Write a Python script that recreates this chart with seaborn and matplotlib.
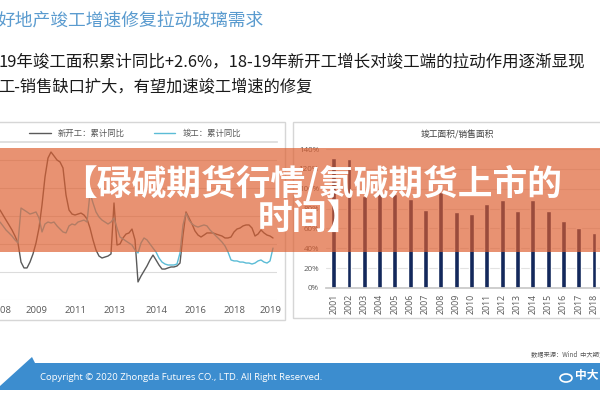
import matplotlib
matplotlib.use("Agg")
import matplotlib.pyplot as plt
import seaborn as sns
import pandas as pd
from matplotlib.patches import Rectangle, Polygon, Circle
from matplotlib.lines import Line2D

sns.set_theme(style="white")
plt.rcParams["font.family"] = ["Noto Sans CJK SC", "DejaVu Sans"]

# ---------------- data ----------------
header_title = "好地产竣工增速修复拉动玻璃需求"
header_line2 = "19年竣工面积累计同比+2.6%，18-19年新开工增长对竣工端的拉动作用逐渐显现"
header_line3 = "工-销售缺口扩大，有望加速竣工增速的修复"
banner_line1 = "【碌碱期货行情/氯碱期货上市的"
banner_line2 = "时间】"

series_names = ["新开工：累计同比", "竣工：累计同比"]
line_tick_labels = ["2008", "2009", "2011", "2013", "2014", "2016", "2018", "2019"]
line_tick_index = [0, 12, 25, 38, 52, 65, 78, 90]

new_start = [24.3, 20.7, 17.1, 13.6, 10.0, 5.7, 0.7, -12.9, -17.1, -17.1,
             -12.9, -7.1, 0.7, 11.4, 27.9, 47.9, 61.4, 65.7, 62.9, 60.0,
             58.6, 54.3, 35.0, 24.3, 21.4, 20.7, 21.4, 22.1, 20.7, 17.9,
             11.4, 2.9, -4.3, -8.6, -10.0, -9.3, -8.6, -7.1, 29.3, -0.7,
             0.0, 4.3, 7.1, 7.9, 10.7, 2.9, -27.1, -22.9, -19.3, -15.7,
             -11.4, -7.9, -11.4, -15.0, -17.9, -17.9, -17.1, -16.4, -16.4, -15.7,
             -13.6, 6.4, 22.9, 18.6, 14.3, 9.3, 6.4, 5.0, 6.4, 7.9,
             7.9, 7.9, 7.1, 6.4, 5.7, 4.3, 4.3, 5.0, 8.6, 10.7,
             11.4, 12.9, 13.6, 13.6, 11.4, 5.7, 7.1, 10.0, 7.9, 6.4,
             5.7, 4.3]
completion = [15.7, 12.9, 10.0, 7.9, 5.7, 2.9, 0.7, 25.7, 24.3, 22.9,
              21.4, 22.1, 22.9, 18.6, 8.6, 14.3, 15.7, 15.0, 15.7, 12.9,
              10.7, 8.6, 7.9, 12.9, 14.3, 13.6, 15.7, 16.4, 17.1, 15.7,
              36.4, 29.3, 22.9, 19.3, 17.1, 15.7, 14.3, 15.7, 18.6, 11.4,
              5.0, 3.6, 2.1, 0.7, -0.7, -4.3, -6.4, 0.7, 4.3, 2.9,
              0.0, -2.9, -5.7, -10.0, -12.9, -14.3, -15.0, -15.0, -15.0, -14.3,
              -6.4, 13.6, 22.1, 17.1, 14.3, 12.9, 12.1, 12.9, 13.6, 12.9,
              10.0, 7.9, 5.7, 3.6, 1.4, -1.4, -5.7, -11.4, -12.1, -12.1,
              -12.9, -12.9, -13.6, -13.6, -14.3, -13.6, -12.1, -11.4, -12.9, -13.6,
              -12.1, -2.9]

bar_title = "竣工面积/销售面积"
bar_years = ["2001", "2002", "2003", "2004", "2005", "2006", "2007", "2008", "2009",
             "2010", "2011", "2012", "2013", "2014", "2015", "2016", "2017", "2018"]
bar_values = [131, 130, 93, 96, 95, 90, 79, 97, 77, 75, 85, 89, 78, 89, 78, 67, 60, 55]
bar_ticks = [0, 20, 40, 60, 80, 100, 120, 140]

footer_text = "Copyright © 2020 Zhongda Futures CO., LTD. All Right Reserved."
source_text = "数据来源：Wind  中大期货"
logo_text = "中大"

# ---------------- layout helpers ----------------
W, H = 600, 400
def fx(px): return px / W
def fy(py): return 1 - py / H
def rect(l, t, r, b): return [l / W, 1 - b / H, (r - l) / W, (b - t) / H]

fig = plt.figure(figsize=(6, 4), dpi=100)
fig.patch.set_facecolor("white")

# header
fig.text(fx(-2), fy(21), header_title, fontsize=12.8, color="#5A9BCF", ha="left", va="center")
fig.text(fx(-2), fy(62), header_line2, fontsize=11.9, color="#1a1a1a", ha="left", va="center")
fig.text(fx(-2), fy(87), header_line3, fontsize=11.7, color="#1a1a1a", ha="left", va="center")

# panel frames
for (l, t, r, b) in [(-2, 122, 285, 320), (293, 122, 610, 318)]:
    fig.add_artist(Rectangle((fx(l), fy(b)), (r - l) / W, (b - t) / H, transform=fig.transFigure,
                             fill=False, ec="#d6d6d6", lw=1, zorder=3))

# ---------------- left line chart ----------------
ax1 = fig.add_axes(rect(-12, 142, 277, 300))
ax1.set_facecolor("none")
n = len(new_start)
df_lines = pd.DataFrame({
    "idx": list(range(n)) * 2,
    "value": new_start + completion,
    "series": [series_names[0]] * n + [series_names[1]] * n,
})
palette = {series_names[0]: "#5a5a5a", series_names[1]: "#5BBCD6"}
sns.lineplot(data=df_lines, x="idx", y="value", hue="series", palette=palette,
             linewidth=1.0, ax=ax1, legend=False)
ax1.set_xlim(-4, 92.33)
ax1.set_ylim(-40, 72.86)
ax1.set_yticks([-40, -20, 0, 20, 40, 60])
ax1.set_yticklabels([])
ax1.set_xticks(line_tick_index)
ax1.set_xticklabels(line_tick_labels, fontsize=6.8, color="#595959", family=["Open Sans", "DejaVu Sans"])
ax1.tick_params(length=0, pad=4)
ax1.grid(axis="y", color="#dcdcdc", lw=0.8)
for s in ["left", "right", "bottom"]:
    ax1.spines[s].set_visible(False)
ax1.spines["top"].set_color("#dcdcdc")
ax1.set_xlabel("")
ax1.set_ylabel("")

handles = [Line2D([0], [0], color=palette[s], lw=1.0) for s in series_names]
fig.legend(handles, series_names, loc="center", bbox_to_anchor=(fx(135), fy(133)), ncol=2,
           frameon=False, fontsize=6, handlelength=2.6, columnspacing=3.5, labelcolor="#595959")

# ---------------- right bar chart ----------------
ax2 = fig.add_axes(rect(326, 149, 617, 288))
ax2.set_facecolor("none")
df_bars = pd.DataFrame({"year": bar_years, "ratio": bar_values})
sns.barplot(data=df_bars, x="year", y="ratio", color="#13285C", saturation=1, width=0.32, ax=ax2)
ax2.set_xlim(-0.5, 18.5)
ax2.set_ylim(0, 140)
ax2.set_yticks(bar_ticks)
ax2.set_yticklabels([f"{v}%" for v in bar_ticks], fontsize=5.8, color="#595959",
                    family=["Open Sans", "DejaVu Sans"])
ax2.set_xticks(range(len(bar_years)))
ax2.set_xticklabels(bar_years, rotation=90, fontsize=6.3, color="#595959",
                    family=["Open Sans", "DejaVu Sans"])
ax2.tick_params(axis="y", length=0, pad=5)
ax2.tick_params(axis="x", length=0, pad=4)
ax2.grid(axis="y", color="#e3e3e3", lw=0.8)
ax2.set_axisbelow(True)
for s in ["left", "right", "top"]:
    ax2.spines[s].set_visible(False)
ax2.spines["bottom"].set_color("#c8c8c8")
ax2.set_xlabel("")
ax2.set_ylabel("")
fig.text(fx(457), fy(135), bar_title, fontsize=6.3, color="#404040", ha="center", va="center")

# ---------------- banner overlay ----------------
fig.add_artist(Rectangle((0, fy(252)), 1, 104 / H, transform=fig.transFigure,
                         fc="#DE5D2D", ec="none", alpha=0.67, zorder=5))
fig.text(fx(312), fy(183), banner_line1, fontsize=25, fontweight="bold", color="white",
         ha="center", va="center", zorder=6)
fig.text(fx(310), fy(218), banner_line2, fontsize=25, fontweight="bold", color="white",
         ha="center", va="center", zorder=6)

# ---------------- footer ----------------
fig.add_artist(Polygon([(fx(0), fy(390)), (fx(0), fy(386)), (fx(32), fy(357)), (fx(35), fy(363)),
                        (fx(600), fy(363)), (fx(600), fy(390))], closed=True,
                       transform=fig.transFigure, fc="#3C8DCF", ec="none", zorder=4))
fig.text(fx(40), fy(377), footer_text, fontsize=6.8, color="white", ha="left", va="center",
         family=["Open Sans", "DejaVu Sans"], zorder=6)
fig.text(fx(531), fy(354), source_text, fontsize=4.5, color="#555555", ha="left", va="center", zorder=6)
fig.add_artist(Circle((fx(566), fy(378)), 6 / W, transform=fig.transFigure, fill=False,
                      ec="white", lw=1.2, zorder=6))
fig.text(fx(575), fy(376), logo_text, fontsize=8.5, fontweight="bold", color="white",
         ha="left", va="center", zorder=6)

fig.savefig("out.png", dpi=100)
